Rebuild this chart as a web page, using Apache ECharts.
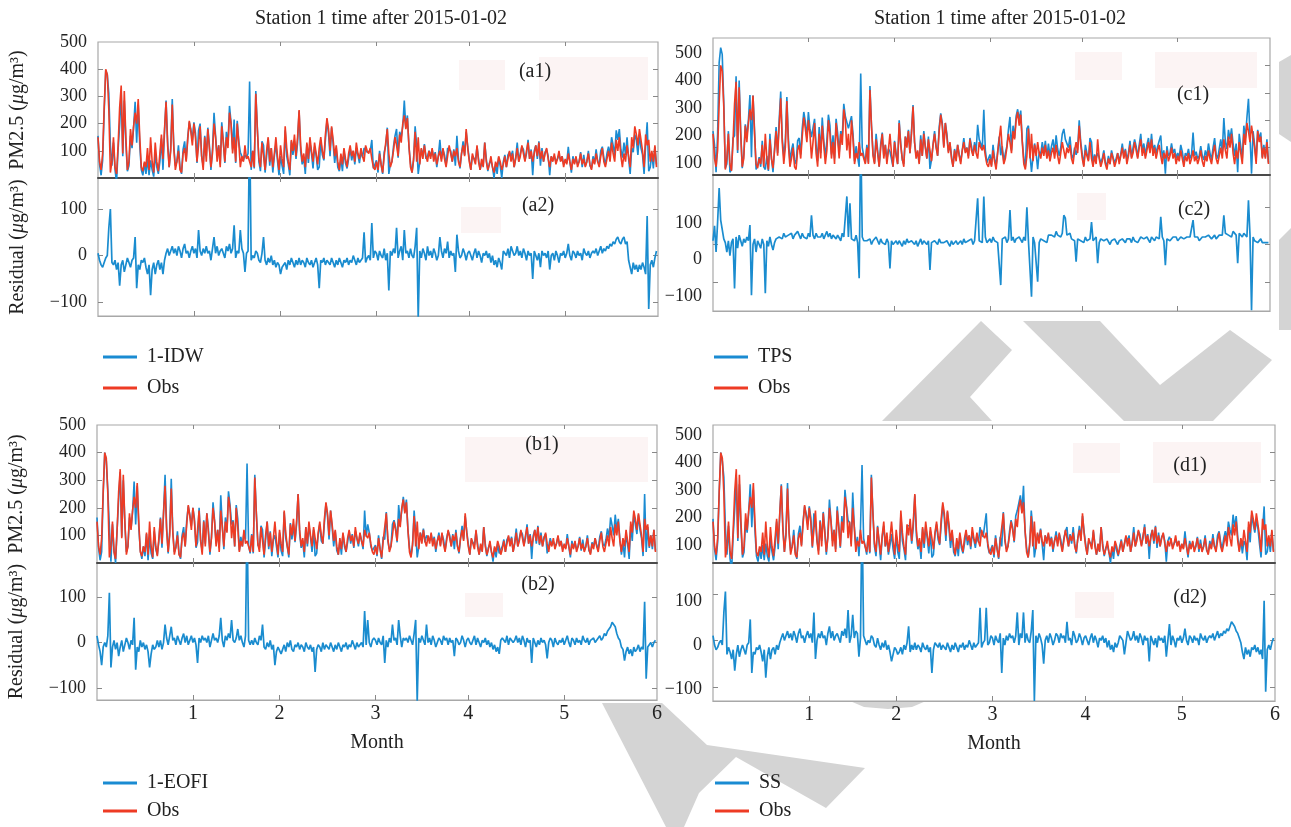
<!DOCTYPE html>
<html><head><meta charset="utf-8">
<script src="https://cdn.jsdelivr.net/npm/echarts@6/dist/echarts.min.js"></script>
<style>html,body{margin:0;padding:0;background:#fff}#c{width:1291px;height:827px}</style>
</head><body><div id="c"></div>
<script>
const obs = [
150,60,30,90,260,400,380,250,20,60,
150,40,15,120,260,340,90,320,150,30,
60,180,120,190,240,200,290,150,40,25,
60,40,110,30,150,60,20,130,60,25,
90,160,70,180,280,120,40,100,270,110,
30,60,100,30,20,90,110,60,140,210,
170,120,200,150,60,120,190,80,30,150,
60,180,110,40,90,200,150,60,120,40,
190,130,60,150,110,240,200,90,150,60,
200,130,40,80,60,120,70,80,60,40,
100,40,310,180,70,40,130,80,30,100,
150,60,110,40,90,150,80,30,120,70,
40,190,110,60,30,140,100,160,80,150,
250,120,60,90,40,130,70,150,100,60,
130,90,50,110,150,100,70,160,220,180,
100,190,140,80,120,60,30,90,50,110,
70,40,90,120,80,100,60,130,90,70,
110,80,60,120,100,90,110,70,40,30,
60,30,90,50,20,80,130,180,90,40,
60,100,150,120,80,160,130,200,230,180,
220,120,40,20,70,170,60,150,50,110,
70,120,80,60,100,70,110,60,90,50,
80,100,60,110,70,40,80,120,90,60,
100,80,110,60,40,90,120,80,180,110,
60,30,90,70,50,120,60,30,70,40,
130,60,30,50,80,40,20,60,40,80,
60,30,50,80,40,70,100,60,90,40,
70,110,60,80,120,90,60,100,130,70,
100,60,90,120,80,130,70,100,60,90,
110,70,40,80,60,90,50,70,100,60,
80,40,70,50,90,60,30,70,50,80,
40,60,90,50,70,40,60,90,50,30,
70,50,90,60,40,80,110,60,40,70,
100,60,130,90,60,140,100,150,80,40,
90,60,120,80,40,150,110,190,160,120,
180,140,100,40,160,120,140,60,100,60,
120,40];

// Residuals (model - obs) of each method, same half-day steps
const residIDW = [
5,-10,-20,-25,-15,-5,0,60,100,-15,
-20,-10,-30,-15,-65,-20,-10,-35,-20,-5,
-15,-25,-10,-5,40,-70,-20,-30,-10,-15,
-5,-25,-40,-20,-85,-30,-15,-40,-20,-10,
-30,-15,-40,-10,5,15,0,10,20,5,
15,0,20,10,-5,15,25,5,10,-5,
10,20,5,15,-5,55,10,0,15,5,
20,5,10,-10,15,40,5,20,0,10,
15,5,-5,20,10,25,5,15,65,-5,
10,5,55,15,5,-35,5,10,295,-10,
0,-5,10,5,-10,-15,5,40,-10,-20,
-5,-15,0,-20,-10,-25,-15,-20,-40,-25,
-25,-15,-30,-10,-20,-5,-15,-25,-10,-20,
-5,-20,-10,-15,-25,-5,-15,-20,-10,-25,
-15,-5,-20,-70,-10,-15,-5,-20,-10,-15,
-20,-5,-15,-25,-10,-20,-5,-15,-25,-10,
-15,-5,-20,-10,-15,0,-10,-20,-5,-15,
-10,-5,50,-15,-5,0,-10,70,-5,10,
5,-10,10,0,-5,15,-10,5,-75,10,
0,15,5,60,-5,10,20,-10,55,5,
10,-5,15,0,-5,20,60,-135,10,-5,
15,5,-10,20,0,10,-5,15,5,-10,
0,40,10,-5,15,5,30,-5,10,0,
5,-35,45,10,-5,0,15,5,-10,5,
10,0,-10,5,15,-5,10,0,-15,5,
0,10,-5,5,-15,0,-20,-10,-25,-5,
-15,-30,10,5,0,15,-5,20,10,0,
5,20,0,10,-5,15,5,-10,10,0,
5,-50,10,0,-10,5,-25,10,0,5,
-5,10,-30,0,5,-10,10,0,-15,5,
0,10,-5,5,25,0,-10,10,5,-5,
10,0,5,-10,15,5,0,10,-5,5,
10,5,15,0,10,20,5,15,10,20,
15,25,20,30,25,35,40,30,25,35,
40,25,30,-10,-25,-40,-15,-30,-20,-35,
-20,-30,-15,-25,-40,85,-115,-20,-10,-25,
-5,10];

const residTPS = [
10,50,-20,60,150,65,60,15,5,-20,
10,-30,5,15,-117,20,-10,25,10,-5,
15,5,20,10,52,-135,0,15,-20,10,
5,-10,15,0,-130,10,-5,20,0,-15,
5,15,10,20,25,15,30,20,15,25,
20,30,15,25,20,35,25,15,30,20,
25,15,30,20,78,25,15,30,20,25,
20,30,15,25,35,20,30,15,25,20,
15,25,20,10,30,20,15,128,20,110,
15,20,10,25,5,-90,300,20,10,5,
10,5,15,0,10,5,20,10,0,15,
5,10,0,15,5,-64,10,0,5,10,
0,10,5,-5,10,0,15,5,0,10,
5,0,10,-5,5,15,0,10,5,0,
10,-68,5,0,10,5,0,15,5,10,
5,0,10,5,-5,10,0,5,10,0,
5,10,0,15,5,0,10,5,15,0,
10,5,123,10,15,5,128,20,5,10,
15,5,20,10,15,5,10,-108,15,10,
20,5,15,92,10,20,5,15,10,20,
15,5,20,10,99,10,15,-139,20,5,
10,-99,5,15,20,10,15,5,25,20,
25,30,20,35,25,30,20,30,78,70,
25,20,30,15,20,10,-46,15,20,10,
15,5,20,10,5,15,60,10,5,20,
-50,5,15,10,10,5,15,10,0,10,
5,15,10,0,10,5,15,10,5,15,
10,15,5,20,10,15,5,10,20,15,
15,10,20,15,5,20,15,10,20,15,
15,74,20,10,-55,15,20,10,15,20,
15,20,10,15,20,25,15,10,20,15,
20,15,65,20,15,20,10,15,20,25,
20,15,25,20,15,20,25,15,20,25,
30,25,78,30,35,25,30,20,35,30,
25,-50,30,25,20,30,25,20,118,25,
-175,20,10,15,5,10,15,5,10,5,
10,5];

const residEOFI = [
15,-5,-20,-50,-10,0,-10,15,110,-55,
-10,5,-15,0,-30,-10,5,-20,-5,10,
0,-15,5,-5,55,-60,-10,-20,5,-10,
0,-15,-5,-20,-55,-25,-5,-15,-10,5,
-10,5,-15,0,40,10,-5,15,35,5,
10,-5,15,5,-5,10,20,0,15,-5,
5,15,0,10,-5,-45,10,0,15,5,
10,0,15,-10,5,20,5,10,0,15,
55,5,-10,15,5,20,10,50,5,0,
10,30,5,15,0,-10,15,280,5,-5,
5,-5,10,0,-5,15,5,40,-10,-15,
0,-10,5,-15,-5,-50,-20,-10,-10,-25,
-15,-5,-20,0,-10,5,-15,-20,-5,-10,
0,-15,-5,-10,-20,0,-10,-15,-5,-20,
-10,-65,-15,-5,-10,-20,0,-15,-5,-10,
-15,0,-10,-20,-5,-15,0,-10,-20,-5,
-10,0,-15,-5,-10,5,-5,-15,0,-10,
-5,0,-10,70,-5,50,0,-10,5,10,
5,-5,10,0,-5,15,-45,5,-10,10,
0,40,5,10,-5,50,15,-10,10,5,
10,0,15,5,-5,20,50,-130,10,0,
15,5,-5,40,0,10,-5,15,5,-10,
0,10,5,-5,15,5,10,-5,10,0,
5,-30,10,5,-5,0,15,5,-10,5,
10,0,-5,5,15,-5,10,0,-10,5,
0,10,-5,5,-10,0,-15,-5,-20,-10,
-25,5,10,5,0,15,-5,10,5,0,
5,15,0,10,-5,15,5,-10,10,0,
5,-45,10,0,-10,5,-5,10,0,5,
-5,-35,0,10,5,-10,10,0,-5,5,
0,10,-5,5,15,0,-10,10,5,-5,
10,0,5,-5,15,5,0,10,-5,5,
5,10,0,5,10,15,5,10,20,15,
25,30,35,45,40,35,20,10,5,-10,
-15,-40,-20,-10,-25,-15,-30,-10,-20,-15,
-5,-20,-10,-15,90,-80,-10,-5,0,-10,
0,5];

const residSS = [
10,-10,-20,-15,-5,0,-10,60,105,-30,
-15,-25,-40,-20,-65,-30,-10,-35,-20,-10,
-20,-30,-10,-5,45,-70,-25,-30,-15,-20,
-10,-25,-45,-20,-80,-35,-15,-40,-20,-15,
-30,-10,-20,-5,5,15,0,10,20,5,
15,0,20,10,-5,15,25,5,10,-5,
10,20,5,15,-5,60,-40,0,15,5,
20,5,10,-10,15,30,5,20,0,10,
15,5,-5,20,10,25,5,65,-5,10,
55,5,20,15,-35,5,285,10,0,-10,
0,-5,10,5,-10,-15,5,-10,-20,-5,
-15,0,-20,-10,-25,-45,-30,-15,-20,-30,
-25,-15,-30,-10,-20,-5,30,-25,-10,-20,
-5,-20,-10,-15,-25,-5,-15,-20,-10,-25,
-15,-70,-20,-5,-10,-15,-5,-20,-10,-15,
-20,-5,-15,-25,-10,-20,-5,-15,-25,-10,
-15,-5,-20,-10,-15,0,-10,-20,-5,-15,
-10,-5,70,-15,-5,0,70,-10,-5,10,
5,-10,10,0,-5,15,-70,5,-10,10,
0,15,5,10,-5,10,60,-10,15,5,
60,-5,15,0,-5,20,65,-130,10,-5,
15,5,-10,-50,0,10,-5,15,5,-10,
0,15,10,-5,15,5,10,-5,40,0,
5,-10,20,10,-5,0,15,5,-10,5,
10,0,-10,5,15,-5,10,0,-15,5,
0,10,-5,5,-15,0,-20,-10,-25,-5,
-15,-5,10,5,0,-30,-5,20,10,0,
5,20,0,10,-5,15,5,-10,10,0,
5,-45,10,0,-10,5,-15,10,0,5,
-5,10,-35,0,35,-10,10,0,-15,5,
0,10,-5,5,25,0,-10,10,5,-5,
10,0,5,-10,15,5,0,10,-5,5,
10,5,15,0,10,20,5,15,10,20,
15,25,20,30,40,35,30,20,15,5,
-5,-25,-40,-15,-30,-20,-35,-15,-20,-10,
-25,-15,-30,-20,-40,85,-110,-20,-10,-20,
-5,5];

const monthTickDays = [31, 59, 90, 120, 151, 181];
const monthLabels = ['1', '2', '3', '4', '5', '6'];
const pmTicks = [100, 200, 300, 400, 500];
const resTicks = [-100, 0, 100];
const titleText = 'Station 1 time after 2015-01-02';
const days = obs.map((v, i) => i * 0.5);

const FONT = 'Liberation Serif';
const BLUE = '#1a8bd2', RED = '#ee3b24', RES = '#1a8ccf', INK = '#222';

const panels = [
  {model:'1-IDW', resid:residIDW, top:[98,42,560,136], bot:[98,178,560,138], r2:[-130,167], lab1:[0,500], lab2:[-130,167], names:true, months:false, legend:[103,347,11], tags:[[535,72,'(a1)'],[538,206,'(a2)']]},
  {model:'TPS', resid:residTPS, top:[713,38,557,137], bot:[713,175,557,136], r2:[-177,185], lab1:[56,555], lab2:[-141,231], names:false, months:false, legend:[714,347,11], tags:[[1193,95,'(c1)'],[1194,210,'(c2)']]},
  {model:'1-EOFI', resid:residEOFI, top:[97,425,560,138], bot:[97,563,560,137], r2:[-127,176], lab1:[0,500], lab2:[-127,176], names:true, months:true, legend:[103,773,8], tags:[[542,445,'(b1)'],[538,585,'(b2)']]},
  {model:'SS', resid:residSS, top:[713,425,562,138], bot:[713,563,562,138], r2:[-130,166], lab1:[35,536], lab2:[-128,189], names:false, months:true, legend:[715,773,8], tags:[[1190,466,'(d1)'],[1190,598,'(d2)']]}
];

const grids = [], xAxes = [], yAxes = [], series = [], legends = [], graphics = [];
const nameStyle = {fontFamily:FONT, fontSize:20, color:INK, rich:{i:{fontStyle:'italic', fontFamily:FONT, fontSize:20, color:INK}}};
const minus = v => String(v).replace('-', '\u2212');

panels.forEach(p => {
  [0, 1].forEach(s => {
    const g = s === 0 ? p.top : p.bot;
    const gi = grids.length;
    grids.push({left:g[0], top:g[1], width:g[2], height:g[3], show:true, borderColor:'#a8a8a8', borderWidth:1.2, backgroundColor:'#fff'});
    const xb = xAxes.length;
    const showX = s === 1 && p.months;
    xAxes.push({type:'value', gridIndex:gi, min:0, max:181, position:'bottom',
      axisLine:{show:true, onZero:false, lineStyle:{color: s === 0 ? '#4a4a4a' : '#a8a8a8', width: s === 0 ? 2 : 1.2}},
      axisTick:{show:true, inside:true, length:5, customValues:monthTickDays.slice(0,5), lineStyle:{color:'#888'}},
      axisLabel:{show:showX, customValues:monthTickDays, showMaxLabel:true, showMinLabel:true,
        formatter: v => { const k = monthTickDays.indexOf(v); return k >= 0 ? monthLabels[k] : ''; },
        fontFamily:FONT, fontSize:20, color:INK, margin:4},
      splitLine:{show:false},
      name: showX ? 'Month' : '', nameLocation:'middle', nameGap:33, nameTextStyle:{fontFamily:FONT, fontSize:20, color:INK}
    });
    xAxes.push({type:'value', gridIndex:gi, min:0, max:181, position:'top', axisLine:{show:false, onZero:false},
      axisTick:{show:true, inside:true, length:4, customValues:monthTickDays.slice(0,5), lineStyle:{color:'#888'}},
      axisLabel:{show:false}, splitLine:{show:false}});
    const ticks = s === 0 ? pmTicks : resTicks;
    const r = s === 0 ? [0, 500] : p.r2;
    const lab = s === 0 ? p.lab1 : p.lab2;
    const inTicks = ticks.filter(v => v > r[0] && v < r[1]);
    const yd = yAxes.length;
    ['left', 'right'].forEach(pos => yAxes.push({type:'value', gridIndex:gi, min:r[0], max:r[1], position:pos,
      axisLine:{show:false, onZero:false}, axisTick:{show:true, inside:true, length:5, customValues:inTicks, lineStyle:{color:'#888'}},
      axisLabel:{show:false}, splitLine:{show:false}}));
    yAxes.push({type:'value', gridIndex:gi, min:lab[0], max:lab[1], position:'left',
      axisLine:{show:false, onZero:false}, axisTick:{show:false}, splitLine:{show:false},
      axisLabel:{show:true, customValues:ticks, showMaxLabel:true, showMinLabel:true, formatter:minus, fontFamily:FONT, fontSize:18, color:INK, margin:11},
      name: p.names ? (s === 0 ? 'PM2.5 ({i|μ}g/m³)' : 'Residual ({i|μ}g/m³)') : '',
      nameLocation:'middle', nameRotate:90, nameGap:70, nameTextStyle:nameStyle});
    const common = {type:'line', xAxisIndex:xb, yAxisIndex:yd, showSymbol:false, symbol:'none', silent:true, animation:false, clip:true};
    if (s === 0) {
      series.push(Object.assign({}, common, {name:p.model, data:days.map((d, i) => [d, obs[i] + p.resid[i]]),
        lineStyle:{color:BLUE, width:1.6}, itemStyle:{color:BLUE}, z:2}));
      series.push(Object.assign({}, common, {name:'Obs', data:days.map((d, i) => [d, obs[i]]),
        lineStyle:{color:RED, width:1.6}, itemStyle:{color:RED}, z:3}));
    } else {
      series.push(Object.assign({}, common, {name:p.model + ' residual', data:days.map((d, i) => [d, p.resid[i]]),
        lineStyle:{color:RES, width:1.7}, itemStyle:{color:RES}, z:3}));
    }
  });
  legends.push({data:[p.model, 'Obs'], left:p.legend[0], top:p.legend[1], orient:'vertical', itemGap:p.legend[2],
    padding:0, itemWidth:34, itemHeight:3, icon:'rect', selectedMode:false,
    textStyle:{fontFamily:FONT, fontSize:20, color:INK, padding:[0,0,0,5]}});
  p.tags.forEach(t => graphics.push({type:'text', x:t[0], y:t[1], z:10, silent:true,
    style:{text:t[2], font:'20px "Liberation Serif"', fill:INK, align:'center', verticalAlign:'middle'}}));
});

// grey watermark behind the figure
const watermark = [
  [[882,421],[981,321],[1012,350],[970,397],[992,421]],
  [[1023,321],[1100,321],[1160,385],[1230,330],[1272,360],[1213,421],[1124,421]],
  [[1279,62],[1291,55],[1291,142],[1279,134]],
  [[1279,240],[1291,228],[1291,330],[1279,330]],
  [[602,703],[662,703],[707,745],[865,768],[826,808],[736,757],[699,793],[684,827],[666,827]],
  [[850,701],[926,701],[912,707],[888,709],[864,707]]
];
watermark.forEach(pts => graphics.push({type:'polygon', shape:{points:pts}, style:{fill:'#d4d4d4'}, z:-10, silent:true}));
// faint pink label boxes
const boxes = [[459,60,46,30],[539,57,109,43],[461,207,40,26],[465,437,183,45],[465,593,38,24],
  [1075,52,47,28],[1155,52,102,36],[1077,193,29,27],[1073,443,47,30],[1153,442,108,41],[1075,592,39,26]];
boxes.forEach(b => graphics.push({type:'rect', shape:{x:b[0], y:b[1], width:b[2], height:b[3]}, style:{fill:'#fcf4f4'}, z:1, silent:true}));

const chart = echarts.init(document.getElementById('c'), null, {renderer:'canvas'});
chart.setOption({
  animation:false,
  backgroundColor:'#fff',
  title:[
    {text:titleText, left:376, top:4, textAlign:'center', textStyle:{fontFamily:FONT, fontSize:20, fontWeight:'normal', color:INK}},
    {text:titleText, left:995, top:4, textAlign:'center', textStyle:{fontFamily:FONT, fontSize:20, fontWeight:'normal', color:INK}}
  ],
  grid:grids, xAxis:xAxes, yAxis:yAxes, series:series, legend:legends, graphic:graphics
});
</script></body></html>
